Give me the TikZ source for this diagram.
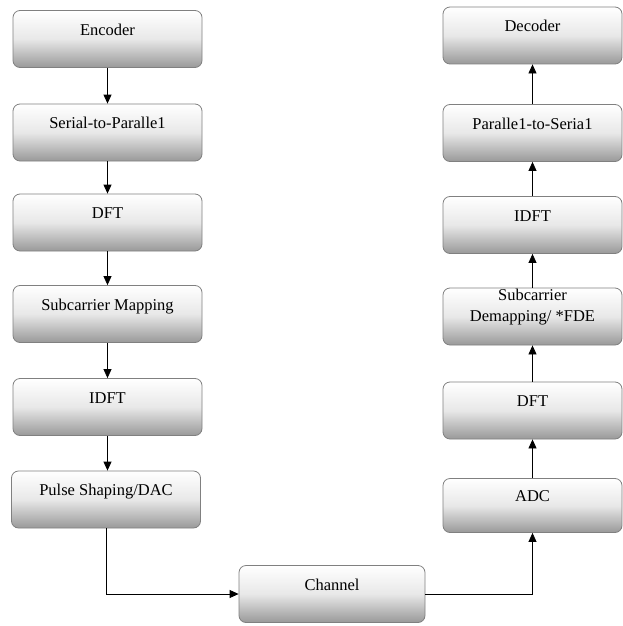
\documentclass[tikz,border=0pt]{standalone}
\usepackage{fontspec}
\setmainfont{Liberation Serif}
\newfontfamily\boxfont{Liberation Serif}
\usetikzlibrary{arrows.meta}
\begin{document}
\begin{tikzpicture}[x=1pt,y=-1pt,
  stage/.style={draw=black!50, line width=0.8pt, rounded corners=7pt,
    top color=white, bottom color=black!40, middle color=black!9,
    minimum height=57pt, inner sep=0pt,
    font=\boxfont\fontsize{16.5}{20}\selectfont, text height=11.5pt, text depth=19pt},
  lstage/.style={stage, minimum width=189pt},
  rstage/.style={stage, minimum width=179pt},
  flow/.style={draw=black, line width=0.8pt, -{Triangle[length=9pt,width=8pt]}}
]
\useasboundingbox (0,0) rectangle (623,626);
% left column
\node[lstage] (enc)  at (107.5,39)   {Encoder};
\node[lstage] (s2p)  at (107.5,132.5) {Serial-to-Paralle1};
\node[lstage] (dft)  at (107.5,222.5) {DFT};
\node[lstage] (map)  at (107.5,314)  {Subcarrier Mapping};
\node[lstage] (idft) at (107.5,407)  {IDFT};
\node[lstage] (dac)  at (106,499.5)  {Pulse Shaping/DAC};
% channel
\node[stage, minimum width=186pt] (chan) at (332,594) {Channel};
% right column
\node[rstage] (dec)   at (532.5,35.5)  {Decoder};
\node[rstage] (p2s)   at (532.5,133)   {Paralle1-to-Seria1};
\node[rstage] (ridft) at (532.5,225)   {IDFT};
\node[rstage, text height=14pt, text depth=5pt, align=center,
      font=\boxfont\fontsize{16.5}{21}\selectfont] (demap) at (532.5,316.5) {Subcarrier\\Demapping/ *FDE};
\node[rstage] (rdft)  at (532.5,410.5) {DFT};
\node[rstage, minimum height=54pt] (adc) at (532.5,505.5) {ADC};
% connectors
\draw[flow] (enc) -- (s2p);
\draw[flow] (s2p) -- (dft);
\draw[flow] (dft) -- (map);
\draw[flow] (map) -- (idft);
\draw[flow] (idft) -- (idft |- dac.north);
\draw[flow] (dac.south) |- (chan.west);
\draw[flow] (chan.east) -| (adc.south);
\draw[flow] (adc) -- (rdft);
\draw[flow] (rdft) -- (demap);
\draw[flow] (demap) -- (ridft);
\draw[flow] (ridft) -- (p2s);
\draw[flow] (p2s) -- (dec);
\end{tikzpicture}
\end{document}
